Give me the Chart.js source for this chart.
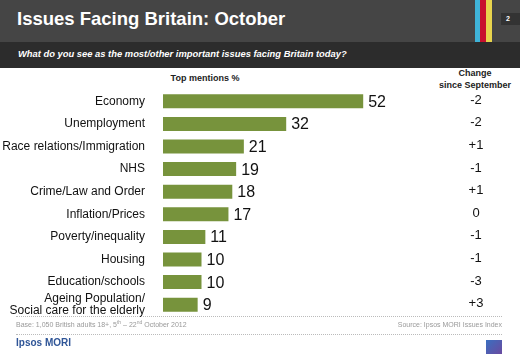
<!DOCTYPE html>
<html><head><meta charset="utf-8">
<script src="https://cdn.jsdelivr.net/npm/chart.js@4/dist/chart.umd.min.js"></script>
<style>
html,body{margin:0;padding:0;background:#fff;}
#wrap{position:relative;width:520px;height:357px;overflow:hidden;font-family:"Liberation Sans",Arial,sans-serif;}
#top{position:absolute;left:0;top:0;width:520px;height:42px;background:#454545;}
#sub{position:absolute;left:0;top:42px;width:520px;height:26px;background:#2c2c2c;}
#title{position:absolute;left:17px;top:8px;color:#fff;font-weight:bold;font-size:18.5px;line-height:22px;white-space:nowrap;}
#subt{position:absolute;left:18px;top:48px;color:#fff;font-weight:bold;font-style:italic;font-size:9.4px;line-height:12px;white-space:nowrap;}
.st{position:absolute;top:0;height:42px;}
#pg{position:absolute;left:501px;top:13px;width:19px;height:12px;background:#333;color:#fff;font-size:7px;font-weight:bold;line-height:12px;text-indent:5px;}
.hd{position:absolute;font-weight:bold;font-size:9px;color:#222;text-align:center;line-height:12px;white-space:nowrap;}
canvas{position:absolute;left:0;top:0;}
.dl{position:absolute;left:16px;width:486px;height:0;border-top:1px dotted #bbb;}
.ft{position:absolute;font-size:7px;color:#999;line-height:9px;white-space:nowrap;}
.ft sup{font-size:5px;line-height:0;}
#ipsos{position:absolute;left:16px;top:337px;font-size:10px;font-weight:bold;color:#2f5597;line-height:12px;}
#logo{position:absolute;left:486px;top:340px;width:16px;height:14px;background:linear-gradient(135deg,#3a6fc0,#6a4aa0);}
</style></head>
<body><div id="wrap">
<div id="top"></div><div id="sub"></div>
<div id="title">Issues Facing Britain: October</div>
<div id="subt">What do you see as the most/other important issues facing Britain today?</div>
<div class="st" style="left:475px;width:5px;background:#3fb3d8"></div>
<div class="st" style="left:480px;width:6px;background:#c8102e"></div>
<div class="st" style="left:486px;width:6px;background:#e8d44d"></div>
<div id="pg">2</div>
<div class="hd" style="left:165px;top:72px;width:80px;">Top mentions %</div>
<div class="hd" style="left:430px;top:67px;width:90px;">Change<br>since September</div>
<canvas id="c" width="520" height="357"></canvas>
<div class="dl" style="top:316px"></div>
<div class="dl" style="top:334px"></div>
<div class="ft" style="left:16px;top:320px;">Base: 1,050 British adults 18+, 5<sup>th</sup> – 22<sup>nd</sup> October 2012</div>
<div class="ft" style="right:18px;top:320px;">Source: Ipsos MORI Issues Index</div>
<div id="ipsos">Ipsos MORI</div>
<div id="logo"></div>
</div>
<script>
const categories = ["Economy","Unemployment","Race relations/Immigration","NHS","Crime/Law and Order","Inflation/Prices","Poverty/inequality","Housing","Education/schools",["Ageing Population/","Social care for the elderly"]];
const mentions = [52,32,21,19,18,17,11,10,10,9];
const changes = ["-2","-2","+1","-1","+1","0","-1","-1","-3","+3"];

const labelsPlugin = {
  id:'labelsPlugin',
  afterDatasetsDraw(chart){
    const ctx = chart.ctx;
    const meta = chart.getDatasetMeta(0);
    const ys = chart.scales.y;
    ctx.save();
    ctx.fillStyle = '#111';
    ctx.textBaseline = 'middle';
    ctx.font = '16px "Liberation Sans", Arial, sans-serif';
    ctx.textAlign = 'left';
    meta.data.forEach((bar,i)=>{
      ctx.fillText(String(mentions[i]), bar.x + 5, bar.y + 1);
    });
    ctx.font = '13px "Liberation Sans", Arial, sans-serif';
    ctx.textAlign = 'center';
    changes.forEach((c,i)=>{
      ctx.fillText(c, 476, ys.getPixelForValue(i) - 1);
    });
    ctx.restore();
  }
};

new Chart(document.getElementById('c'), {
  type:'bar',
  data:{labels:categories, datasets:[{data:mentions, backgroundColor:'#77933c', barPercentage:0.62, categoryPercentage:1}]},
  options:{
    indexAxis:'y', responsive:false, animation:false,
    layout:{padding:{top:90,bottom:41,left:0,right:49}},
    plugins:{legend:{display:false},tooltip:{enabled:false}},
    scales:{
      x:{display:false,min:0,max:80},
      y:{
        grid:{display:false,drawTicks:false},border:{display:false},
        afterFit(s){s.width=163;},
        ticks:{autoSkip:false,padding:18,color:'#111',font:{family:'"Liberation Sans", Arial, sans-serif',size:12,lineHeight:1.0}}
      }
    }
  },
  plugins:[labelsPlugin]
});
</script>
</body></html>
